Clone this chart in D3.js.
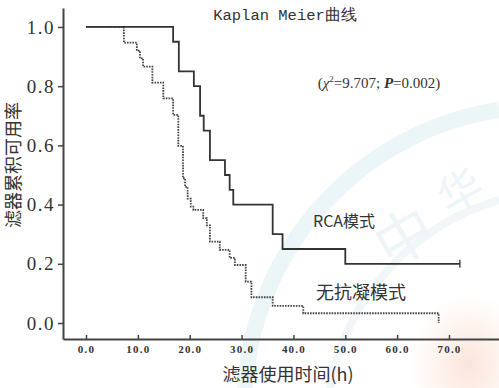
<!DOCTYPE html>
<html>
<head>
<meta charset="utf-8">
<script src="https://cdn.jsdelivr.net/npm/d3@7"></script>
<style>
  body { margin: 0; background: #fff; }
  svg { display: block; }
</style>
</head>
<body>
<svg id="chart" width="499" height="388"></svg>
<script>
// Kaplan Meier curve data (time in h, cumulative survival after each step)
const rcaTimes = [0, 16.8, 17.9, 20.8, 22.0, 22.7, 23.9, 26.8, 27.7, 28.4, 36.0, 37.9, 50.0, 72.1];
const rcaSurv = [1.0, 0.95, 0.85, 0.80, 0.70, 0.65, 0.55, 0.50, 0.45, 0.40, 0.30, 0.25, 0.20, 0.20];
const rcaCensor = [72.1];

const noneTimes = [0, 7.3, 9.8, 10.4, 11.0, 12.8, 14.9, 16.8, 17.8, 18.7, 19.1, 19.6, 20.2, 20.7,
  22.6, 23.3, 23.9, 25.8, 27.7, 28.7, 30.8, 31.9, 36.0, 41.9, 68.0];
const noneSurv = [1.0, 0.947, 0.92, 0.894, 0.866, 0.812, 0.759, 0.703, 0.598, 0.489, 0.46, 0.42, 0.393, 0.382,
  0.354, 0.33, 0.275, 0.247, 0.22, 0.196, 0.14, 0.087, 0.058, 0.033, 0.0];

const xTicks = [0, 10, 20, 30, 40, 50, 60, 70];
const yTicks = [0, 0.2, 0.4, 0.6, 0.8, 1.0];

const svg = d3.select('#chart');

const x = d3.scaleLinear().domain([-4.435, 79.64]).range([63, 499]);
const y = d3.scaleLinear().domain([-0.054, 1.064]).range([339, 8]);

// faint background watermark
const wm = svg.append('g').attr('class', 'watermark');
const grad = svg.append('defs').append('radialGradient')
  .attr('id', 'warm').attr('cx', '70%').attr('cy', '80%').attr('r', '60%');
grad.append('stop').attr('offset', '0%').attr('stop-color', '#fbe5db');
grad.append('stop').attr('offset', '100%').attr('stop-color', '#fbe5db').attr('stop-opacity', 0);
wm.append('rect')
  .attr('x', 400).attr('y', 270).attr('width', 99).attr('height', 118)
  .attr('fill', 'url(#warm)');
wm.append('path')
  .attr('d', 'M 245 388 A 300 300 0 0 1 499 110')
  .attr('fill', 'none')
  .attr('stroke', '#ecf5f7')
  .attr('stroke-width', 16);
wm.append('path')
  .attr('d', 'M 330 388 A 240 240 0 0 1 499 200')
  .attr('fill', 'none')
  .attr('stroke', '#f1f7f9')
  .attr('stroke-width', 8);
wm.append('text')
  .attr('x', 415).attr('y', 255)
  .attr('transform', 'rotate(-30 415 255)')
  .attr('font-family', 'Noto Sans CJK SC')
  .attr('font-size', 58)
  .attr('fill', '#edf5f8')
  .attr('text-anchor', 'middle')
  .text('中');
wm.append('text')
  .attr('x', 468).attr('y', 205)
  .attr('transform', 'rotate(-30 468 205)')
  .attr('font-family', 'Noto Sans CJK SC')
  .attr('font-size', 44)
  .attr('fill', '#edf5f8')
  .attr('text-anchor', 'middle')
  .text('华');

// axes
const xAxis = d3.axisBottom(x)
  .tickValues(xTicks)
  .tickSize(-4)
  .tickSizeOuter(0)
  .tickFormat(d3.format('.1f'));

const yAxis = d3.axisLeft(y)
  .tickValues(yTicks)
  .tickSize(5)
  .tickSizeOuter(0)
  .tickFormat(d3.format('.1f'));

const gx = svg.append('g')
  .attr('class', 'x axis')
  .attr('transform', `translate(0,${y.range()[0]})`)
  .call(xAxis);
gx.select('.domain').attr('stroke', '#444').attr('stroke-width', 2);
gx.selectAll('.tick line').attr('stroke', '#444').attr('stroke-width', 1.5);
gx.selectAll('.tick text')
  .attr('y', 6)
  .attr('font-family', 'Liberation Serif')
  .attr('font-weight', 'bold')
  .attr('font-size', 11)
  .attr('letter-spacing', 1.2)
  .attr('fill', '#333');

const gy = svg.append('g')
  .attr('class', 'y axis')
  .attr('transform', `translate(${x.range()[0]},0)`)
  .call(yAxis);
gy.select('.domain').attr('stroke', '#444').attr('stroke-width', 2);
gy.selectAll('.tick line').attr('stroke', '#444').attr('stroke-width', 1.5);
gy.selectAll('.tick text')
  .attr('x', -8)
  .attr('font-family', 'Liberation Serif')
  .attr('font-size', 19)
  .attr('letter-spacing', 1.5)
  .attr('fill', '#333');

// step curves
const toPoints = (ts, vs) => ts.map((t, i) => [t, vs[i]]);
const stepLine = d3.line()
  .x((d) => x(d[0]))
  .y((d) => y(d[1]))
  .curve(d3.curveStepAfter);

svg.append('path')
  .datum(toPoints(noneTimes, noneSurv))
  .attr('fill', 'none')
  .attr('stroke', '#444')
  .attr('stroke-width', 1.8)
  .attr('stroke-dasharray', '1.6,1.1')
  .attr('d', stepLine);

svg.append('path')
  .datum(toPoints(rcaTimes, rcaSurv))
  .attr('fill', 'none')
  .attr('stroke', '#333')
  .attr('stroke-width', 1.8)
  .attr('d', stepLine);

svg.selectAll('.censor')
  .data(rcaCensor)
  .enter()
  .append('line')
  .attr('class', 'censor')
  .attr('x1', (d) => x(d))
  .attr('x2', (d) => x(d))
  .attr('y1', y(rcaSurv[rcaSurv.length - 1]) - 4)
  .attr('y2', y(rcaSurv[rcaSurv.length - 1]) + 4)
  .attr('stroke', '#333')
  .attr('stroke-width', 1.3);

// texts
svg.append('text')
  .attr('x', 285).attr('y', 20)
  .attr('text-anchor', 'middle')
  .attr('font-family', 'Liberation Mono')
  .attr('font-size', 15.5)
  .attr('fill', '#333')
  .text('Kaplan Meier曲线');

const stat = svg.append('text')
  .attr('x', 379).attr('y', 88)
  .attr('text-anchor', 'middle')
  .attr('font-family', 'Liberation Serif')
  .attr('font-size', 15)
  .attr('fill', '#333');
stat.append('tspan').text('(');
stat.append('tspan').attr('font-style', 'italic').text('χ');
stat.append('tspan').attr('font-size', 9).attr('dy', -6).text('2');
stat.append('tspan').attr('dy', 6).text('=9.707; ');
stat.append('tspan').attr('font-style', 'italic').attr('font-weight', 'bold').text('P');
stat.append('tspan').text('=0.002)');

svg.append('text')
  .attr('x', 313).attr('y', 227)
  .attr('font-family', 'Noto Sans CJK SC')
  .attr('font-size', 16)
  .attr('fill', '#333')
  .text('RCA模式');

svg.append('text')
  .attr('x', 316).attr('y', 299)
  .attr('font-family', 'Noto Sans CJK SC')
  .attr('font-size', 18)
  .attr('fill', '#333')
  .text('无抗凝模式');

svg.append('text')
  .attr('x', 288).attr('y', 381)
  .attr('text-anchor', 'middle')
  .attr('font-family', 'Noto Sans CJK SC')
  .attr('font-size', 18)
  .attr('fill', '#333')
  .text('滤器使用时间(h)');

svg.append('text')
  .attr('transform', 'translate(20,165) rotate(-90)')
  .attr('text-anchor', 'middle')
  .attr('font-family', 'Noto Sans CJK SC')
  .attr('font-size', 18)
  .attr('fill', '#333')
  .text('滤器累积可用率');
</script>
</body>
</html>
